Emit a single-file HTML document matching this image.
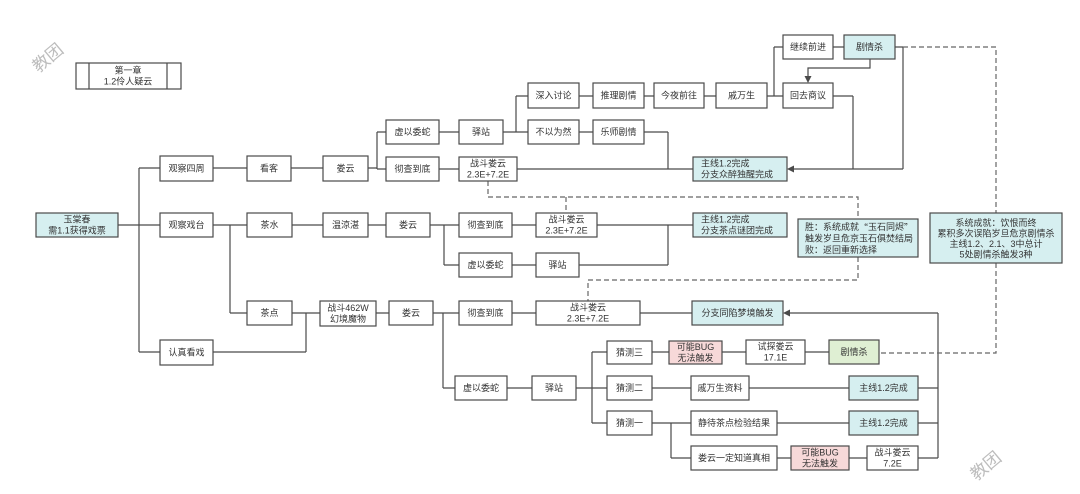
<!DOCTYPE html>
<html><head><meta charset="utf-8"><style>
html,body{margin:0;padding:0;background:#fff;}
svg{display:block;}
text{font-family:"Liberation Sans","Noto Sans CJK SC",sans-serif;font-size:9px;fill:#333;}
.c{text-anchor:middle;dominant-baseline:central;}
.l{text-anchor:start;dominant-baseline:central;}
.b{fill:#fff;stroke:#4a4a4a;stroke-width:1.2;}
.cy{fill:#d6eff0;stroke:#4a4a4a;stroke-width:1.2;}
.pk{fill:#f7d9d9;stroke:#4a4a4a;stroke-width:1.2;}
.gr{fill:#dfefd3;stroke:#4a4a4a;stroke-width:1.2;}
.ln{fill:none;stroke:#4a4a4a;stroke-width:1.2;}
.ds{fill:none;stroke:#666;stroke-width:1.2;stroke-dasharray:5,3;}
.wm{font-size:17px;fill:#bdbdbd;text-anchor:middle;dominant-baseline:central;}
.cjk{font-family:"Noto Sans CJK SC",sans-serif;}
</style></head><body>
<svg width="1080" height="494" viewBox="0 0 1080 494" xmlns="http://www.w3.org/2000/svg">
<!-- watermarks -->
<text class="wm" x="48" y="58" transform="rotate(-40 48 58)">教团</text>
<text class="wm" x="986" y="466" transform="rotate(-40 986 466)">教团</text>

<!-- solid lines -->
<path class="ln" d="
M118 225H139 M139 168V352 M139 168H160 M139 225H160 M139 352H160
M213 168H247 M291 168H323 M368 168H377 M377 132V169 M377 132H386 M377 169H386
M439 132H459 M503 132H516 M516 96V132 M516 96H528 M516 132H528
M579 96H593 M644 96H654 M704 96H716 M767 96H774 M774 47V96 M774 47H783 M774 96H783
M833 47H844
M870 59V68H808V78
M895 47H903 M903 47V169 M833 96H853 M853 96V169 M903 169H793
M579 132H593 M644 132H668 M668 132V169
M439 169H459 M517 169H693
M213 225H247 M230 225V313 M230 313H247 M292 225H323 M368 225H386
M430 225H444 M444 225V265 M444 265H459 M444 225H459
M512 225H536 M597 225H693 M512 265H536 M579 265H668 M668 225V265
M292 313H320 M306 313V352 M213 352H306
M376 313H389 M433 313H443 M443 313V388 M443 313H459 M443 388H455
M512 313H536 M640 313H692
M507 388H532 M576 388H592 M592 352V423 M592 352H607 M592 388H607 M592 423H607
M652 352H669 M722 352H746 M805 352H829
M652 388H691 M749 388H849 M918 388H938
M652 423H671 M671 423V458 M671 423H691 M671 458H691
M777 423H849 M918 423H938
M777 458H791 M849 458H867 M918 458H938
M938 313V458 M938 313H789
"/>
<!-- arrowheads -->
<polygon points="808,83 804.5,76 811.5,76" fill="#4a4a4a"/>
<polygon points="787,169 794,165.5 794,172.5" fill="#4a4a4a"/>
<polygon points="783,313 790,309.5 790,316.5" fill="#4a4a4a"/>

<!-- dashed lines -->
<path class="ds" d="M488 181V197H858V219 M566 197V213 M858 257V280H588V301 M903 47H996V213 M996 263V353H879"/>

<!-- boxes -->
<rect class="b" x="76" y="63" width="105" height="26"/>
<path class="ln" d="M89 63V89 M167 63V89"/>
<text class="c" x="128" y="70.5">第一章</text><text class="c" x="128" y="81.5">1.2伶人疑云</text>

<rect class="cy" x="36" y="213" width="82" height="24"/>
<text class="c" x="77" y="219.5">玉棠春</text><text class="c" x="77" y="230.5">需1.1获得戏票</text>

<rect class="b" x="160" y="156" width="53" height="25"/><text class="c" x="186.5" y="168.5">观察四周</text>
<rect class="b" x="247" y="156" width="44" height="25"/><text class="c" x="269" y="168.5">看客</text>
<rect class="b" x="323" y="156" width="45" height="25"/><text class="c" x="345.5" y="168.5">娄云</text>
<rect class="b" x="160" y="213" width="53" height="24"/><text class="c" x="186.5" y="225">观察戏台</text>
<rect class="b" x="247" y="213" width="45" height="24"/><text class="c" x="269.5" y="225">茶水</text>
<rect class="b" x="323" y="213" width="45" height="24"/><text class="c" x="345.5" y="225">温涼湛</text>
<rect class="b" x="247" y="301" width="45" height="24"/><text class="c" x="269.5" y="313">茶点</text>
<rect class="b" x="320" y="301" width="56" height="25"/><text class="c" x="348" y="308">战斗462W</text><text class="c" x="348" y="319">幻境魔物</text>
<rect class="b" x="160" y="340" width="53" height="25"/><text class="c" x="186.5" y="352.5">认真看戏</text>

<rect class="b" x="386" y="120" width="53" height="24"/><text class="c" x="412.5" y="132">虚以委蛇</text>
<rect class="b" x="386" y="157" width="53" height="24"/><text class="c" x="412.5" y="169">彻查到底</text>
<rect class="b" x="459" y="120" width="44" height="24"/><text class="c" x="481" y="132">驿站</text>
<rect class="b" x="459" y="157" width="58" height="24"/><text class="c" x="488" y="163.5">战斗娄云</text><text class="c" x="488" y="174.5">2.3E+7.2E</text>
<rect class="b" x="528" y="83" width="51" height="25"/><text class="c" x="553.5" y="95.5">深入讨论</text>
<rect class="b" x="528" y="120" width="51" height="24"/><text class="c" x="553.5" y="132">不以为然</text>
<rect class="b" x="593" y="83" width="51" height="25"/><text class="c" x="618.5" y="95.5">推理剧情</text>
<rect class="b" x="593" y="120" width="51" height="24"/><text class="c" x="618.5" y="132">乐师剧情</text>
<rect class="b" x="654" y="83" width="50" height="25"/><text class="c" x="679" y="95.5">今夜前往</text>
<rect class="b" x="716" y="83" width="51" height="25"/><text class="c" x="741.5" y="95.5">戚万生</text>
<rect class="b" x="783" y="35" width="50" height="24"/><text class="c" x="808" y="47">继续前进</text>
<rect class="b" x="783" y="83" width="50" height="25"/><text class="c" x="808" y="95.5">回去商议</text>
<rect class="cy" x="844" y="35" width="51" height="24"/><text class="c" x="869.5" y="47">剧情杀</text>
<rect class="cy" x="693" y="157" width="94" height="24"/><text class="l" x="701" y="163.5">主线1.2完成</text><text class="l" x="701" y="174.5">分支众醉独醒完成</text>

<rect class="b" x="386" y="213" width="44" height="24"/><text class="c" x="408" y="225">娄云</text>
<rect class="b" x="459" y="213" width="53" height="24"/><text class="c" x="485.5" y="225">彻查到底</text>
<rect class="b" x="536" y="213" width="61" height="24"/><text class="c" x="566.5" y="219.5">战斗娄云</text><text class="c" x="566.5" y="230.5">2.3E+7.2E</text>
<rect class="b" x="459" y="253" width="53" height="24"/><text class="c" x="485.5" y="265">虚以委蛇</text>
<rect class="b" x="536" y="253" width="43" height="24"/><text class="c" x="557.5" y="265">驿站</text>
<rect class="cy" x="693" y="213" width="94" height="24"/><text class="l" x="701" y="219.5">主线1.2完成</text><text class="l" x="701" y="230.5">分支茶点谜团完成</text>

<rect class="cy" x="798" y="219" width="120" height="38"/>
<text class="l" x="805" y="227">胜：系统成就<tspan class="cjk">“</tspan>玉石同烬<tspan class="cjk">”</tspan></text>
<text class="l" x="805" y="238.5">触发岁旦危京玉石俱焚结局</text>
<text class="l" x="805" y="250">败：返回重新选择</text>

<rect class="cy" x="930" y="213" width="132" height="50"/>
<text class="c" x="996" y="223">系统成就：饮恨而终</text>
<text class="c" x="996" y="233.5">累积多次误陷岁旦危京剧情杀</text>
<text class="c" x="996" y="244">主线1.2、2.1、3中总计</text>
<text class="c" x="996" y="254.5">5处剧情杀触发3种</text>

<rect class="b" x="389" y="301" width="44" height="24"/><text class="c" x="411" y="313">娄云</text>
<rect class="b" x="459" y="301" width="53" height="24"/><text class="c" x="485.5" y="313">彻查到底</text>
<rect class="b" x="536" y="301" width="104" height="24"/><text class="c" x="588" y="307.5">战斗娄云</text><text class="c" x="588" y="318.5">2.3E+7.2E</text>
<rect class="cy" x="692" y="301" width="91" height="24"/><text class="c" x="737.5" y="313">分支同陷梦境触发</text>

<rect class="b" x="455" y="376" width="52" height="24"/><text class="c" x="481" y="388">虚以委蛇</text>
<rect class="b" x="532" y="376" width="44" height="24"/><text class="c" x="554" y="388">驿站</text>
<rect class="b" x="607" y="341" width="45" height="23"/><text class="c" x="629.5" y="352.5">猜测三</text>
<rect class="b" x="607" y="376" width="45" height="24"/><text class="c" x="629.5" y="388">猜测二</text>
<rect class="b" x="607" y="411" width="45" height="24"/><text class="c" x="629.5" y="423">猜测一</text>
<rect class="pk" x="669" y="341" width="53" height="23"/><text class="c" x="695.5" y="347">可能BUG</text><text class="c" x="695.5" y="358">无法触发</text>
<rect class="b" x="746" y="340" width="59" height="24"/><text class="c" x="775.5" y="346.5">试探娄云</text><text class="c" x="775.5" y="357.5">17.1E</text>
<rect class="gr" x="829" y="340" width="50" height="24"/><text class="c" x="854" y="352">剧情杀</text>
<rect class="b" x="691" y="376" width="58" height="24"/><text class="c" x="720" y="388">戚万生资料</text>
<rect class="cy" x="849" y="376" width="69" height="24"/><text class="c" x="883.5" y="388">主线1.2完成</text>
<rect class="b" x="691" y="411" width="86" height="24"/><text class="c" x="734" y="423">静待茶点检验结果</text>
<rect class="cy" x="849" y="411" width="69" height="24"/><text class="c" x="883.5" y="423">主线1.2完成</text>
<rect class="b" x="691" y="446" width="86" height="24"/><text class="c" x="734" y="458">娄云一定知道真相</text>
<rect class="pk" x="791" y="446" width="58" height="24"/><text class="c" x="820" y="452.5">可能BUG</text><text class="c" x="820" y="463.5">无法触发</text>
<rect class="b" x="867" y="446" width="51" height="24"/><text class="c" x="892.5" y="452.5">战斗娄云</text><text class="c" x="892.5" y="463.5">7.2E</text>
</svg>
</body></html>
